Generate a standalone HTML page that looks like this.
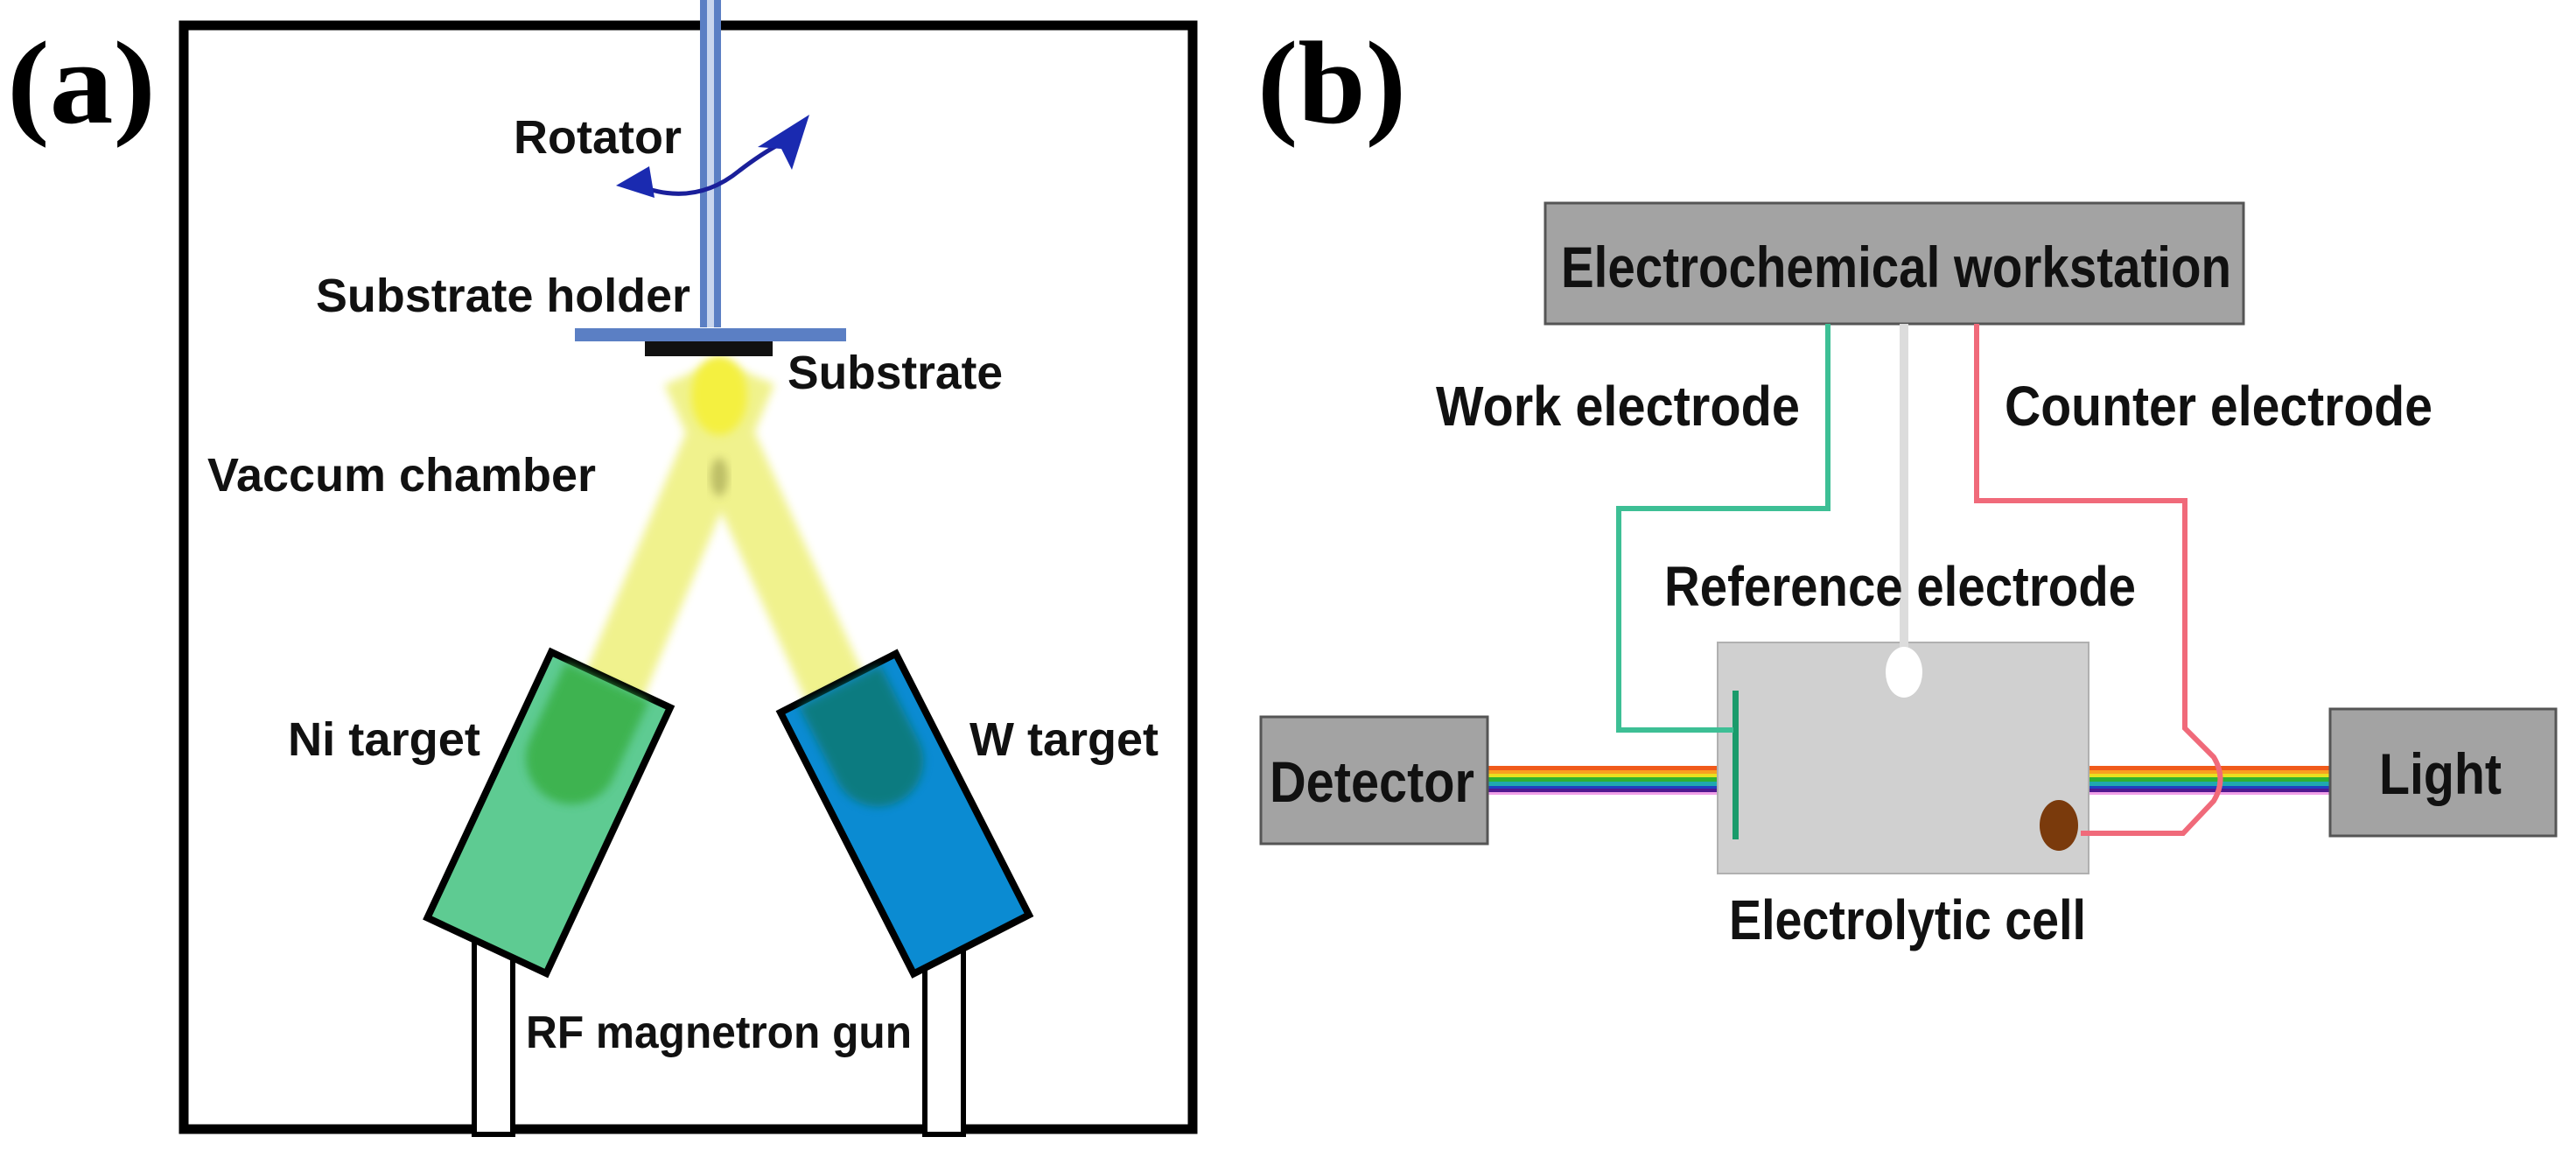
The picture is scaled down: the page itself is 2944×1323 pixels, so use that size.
<!DOCTYPE html>
<html><head><meta charset="utf-8"><style>
html,body{margin:0;padding:0;background:#fff;}
svg{display:block;}
.t{font-family:"Liberation Sans",Arial,sans-serif;font-weight:bold;fill:#111;}
.L{font-family:"Liberation Serif","Times New Roman",serif;font-weight:bold;fill:#000;}
</style></head><body>
<svg width="2944" height="1323" viewBox="0 0 2944 1323" xmlns="http://www.w3.org/2000/svg">
<defs>
<filter id="bl" x="-20%" y="-20%" width="140%" height="140%"><feGaussianBlur stdDeviation="5"/></filter>
<filter id="bl2" x="-30%" y="-30%" width="160%" height="160%"><feGaussianBlur stdDeviation="7"/></filter>
</defs>
<rect width="2944" height="1323" fill="#fff"/>

<!-- Panel (a) -->
<text class="L" x="8" y="140" font-size="135" textLength="170" lengthAdjust="spacingAndGlyphs">(a)</text>
<rect x="210" y="29" width="1153" height="1261" fill="none" stroke="#000" stroke-width="11"/>

<!-- gun legs -->
<rect x="542" y="1060" width="44" height="236" fill="#fff" stroke="#000" stroke-width="6"/>
<rect x="1057" y="1070" width="44" height="226" fill="#fff" stroke="#000" stroke-width="6"/>

<!-- beams -->
<g filter="url(#bl)" opacity="0.85">
<line x1="699" y1="790" x2="852" y2="425" stroke="#eef07a" stroke-width="72"/>
<line x1="956" y1="790" x2="792" y2="425" stroke="#eef07a" stroke-width="72"/>
</g>
<ellipse cx="822" cy="545" rx="10" ry="22" fill="#8a8a40" opacity="0.5" filter="url(#bl)"/>
<ellipse cx="822" cy="452" rx="32" ry="45" fill="#f4f040" filter="url(#bl)"/>

<!-- targets -->
<g transform="translate(630,745) rotate(25)">
<rect x="0" y="0" width="150" height="335" fill="#5ecb92" stroke="#000" stroke-width="8"/>
<path d="M20,4 H125 V100 A52,52 0 0 1 20,100 Z" fill="#3bb14a" filter="url(#bl)" opacity="0.9"/>
</g>
<g transform="translate(892,814) rotate(-27)">
<rect x="0" y="0" width="148" height="335" fill="#0b8bd2" stroke="#000" stroke-width="8"/>
<path d="M22,4 H126 V100 A52,52 0 0 1 22,100 Z" fill="#0a7a78" filter="url(#bl)" opacity="0.9"/>
</g>

<!-- rod and holder -->
<rect x="800" y="0" width="24" height="374" fill="#5b7fc4"/>
<rect x="808" y="0" width="8" height="374" fill="#c9d6ee"/>
<rect x="657" y="375" width="310" height="15" fill="#5b7fc4"/>
<rect x="737" y="390" width="146" height="17" fill="#111"/>

<!-- rotator arrow -->
<path d="M720,208 Q790,240 845,195 Q875,172 900,160" fill="none" stroke="#1a1f9a" stroke-width="5"/>
<polygon points="704,212 742,190 748,226" fill="#1a2ab0"/>
<polygon points="925,131 905,194 893,170 866,168" fill="#1a2ab0"/>

<text class="t" x="587" y="175" font-size="54" textLength="192" lengthAdjust="spacingAndGlyphs">Rotator</text>
<text class="t" x="361" y="356" font-size="54" textLength="428" lengthAdjust="spacingAndGlyphs">Substrate holder</text>
<text class="t" x="900" y="444" font-size="54" textLength="246" lengthAdjust="spacingAndGlyphs">Substrate</text>
<text class="t" x="237" y="561" font-size="54" textLength="444" lengthAdjust="spacingAndGlyphs">Vaccum chamber</text>
<text class="t" x="329" y="863" font-size="54" textLength="220" lengthAdjust="spacingAndGlyphs">Ni target</text>
<text class="t" x="1108" y="863" font-size="54" textLength="216" lengthAdjust="spacingAndGlyphs">W target</text>
<text class="t" x="601" y="1197" font-size="52" textLength="441" lengthAdjust="spacingAndGlyphs">RF magnetron gun</text>

<!-- Panel (b) -->
<text class="L" x="1437" y="140" font-size="135" textLength="170" lengthAdjust="spacingAndGlyphs">(b)</text>

<rect x="1766" y="232" width="798" height="138" fill="#a3a3a3" stroke="#555" stroke-width="3"/>
<text class="t" x="1784" y="328" font-size="66" textLength="766" lengthAdjust="spacingAndGlyphs">Electrochemical workstation</text>

<g>
<rect x="1700" y="875" width="266" height="5" fill="#f05a1a"/>
<rect x="1700" y="880" width="266" height="4" fill="#f8a020"/>
<rect x="1700" y="884" width="266" height="4" fill="#e8e020"/>
<rect x="1700" y="888" width="266" height="5" fill="#30b030"/>
<rect x="1700" y="893" width="266" height="5" fill="#20a8b0"/>
<rect x="1700" y="898" width="266" height="3" fill="#2040c0"/>
<rect x="1700" y="901" width="266" height="4" fill="#501890"/>
<rect x="1700" y="905" width="266" height="3" fill="#f0a0e8"/>
<rect x="2388" y="875" width="276" height="5" fill="#f05a1a"/>
<rect x="2388" y="880" width="276" height="4" fill="#f8a020"/>
<rect x="2388" y="884" width="276" height="4" fill="#e8e020"/>
<rect x="2388" y="888" width="276" height="5" fill="#30b030"/>
<rect x="2388" y="893" width="276" height="5" fill="#20a8b0"/>
<rect x="2388" y="898" width="276" height="3" fill="#2040c0"/>
<rect x="2388" y="901" width="276" height="4" fill="#501890"/>
<rect x="2388" y="905" width="276" height="3" fill="#f0a0e8"/>
</g>

<rect x="1963" y="734" width="424" height="264" fill="#d0d0d0" stroke="#b0b0b0" stroke-width="2"/>
<line x1="2176" y1="370" x2="2176" y2="760" stroke="#dcdcdc" stroke-width="10"/>
<ellipse cx="2176" cy="768" rx="21" ry="29" fill="#fff"/>
<rect x="1980" y="789" width="7" height="170" fill="#1a9b6b"/>
<ellipse cx="2353" cy="943" rx="22" ry="29" fill="#7a3a0c"/>

<polyline points="2089,370 2089,581 1850,581 1850,834 1981,834" fill="none" stroke="#3dbf95" stroke-width="6"/>
<path d="M2259,370 V572 H2497 V832 L2530,865 Q2545,890 2530,915 L2495,952 H2378" fill="none" stroke="#f06a7a" stroke-width="6"/>

<rect x="1441" y="819" width="259" height="145" fill="#a3a3a3" stroke="#555" stroke-width="3"/>
<text class="t" x="1451" y="916" font-size="66" textLength="234" lengthAdjust="spacingAndGlyphs">Detector</text>
<rect x="2663" y="810" width="258" height="145" fill="#a3a3a3" stroke="#555" stroke-width="3"/>
<text class="t" x="2719" y="907" font-size="66" textLength="140" lengthAdjust="spacingAndGlyphs">Light</text>

<text class="t" x="1641" y="486" font-size="64" textLength="416" lengthAdjust="spacingAndGlyphs">Work electrode</text>
<text class="t" x="2291" y="486" font-size="64" textLength="489" lengthAdjust="spacingAndGlyphs">Counter electrode</text>
<text class="t" x="1902" y="692" font-size="64" textLength="539" lengthAdjust="spacingAndGlyphs">Reference electrode</text>
<text class="t" x="1976" y="1073" font-size="64" textLength="408" lengthAdjust="spacingAndGlyphs">Electrolytic cell</text>
</svg>
</body></html>
